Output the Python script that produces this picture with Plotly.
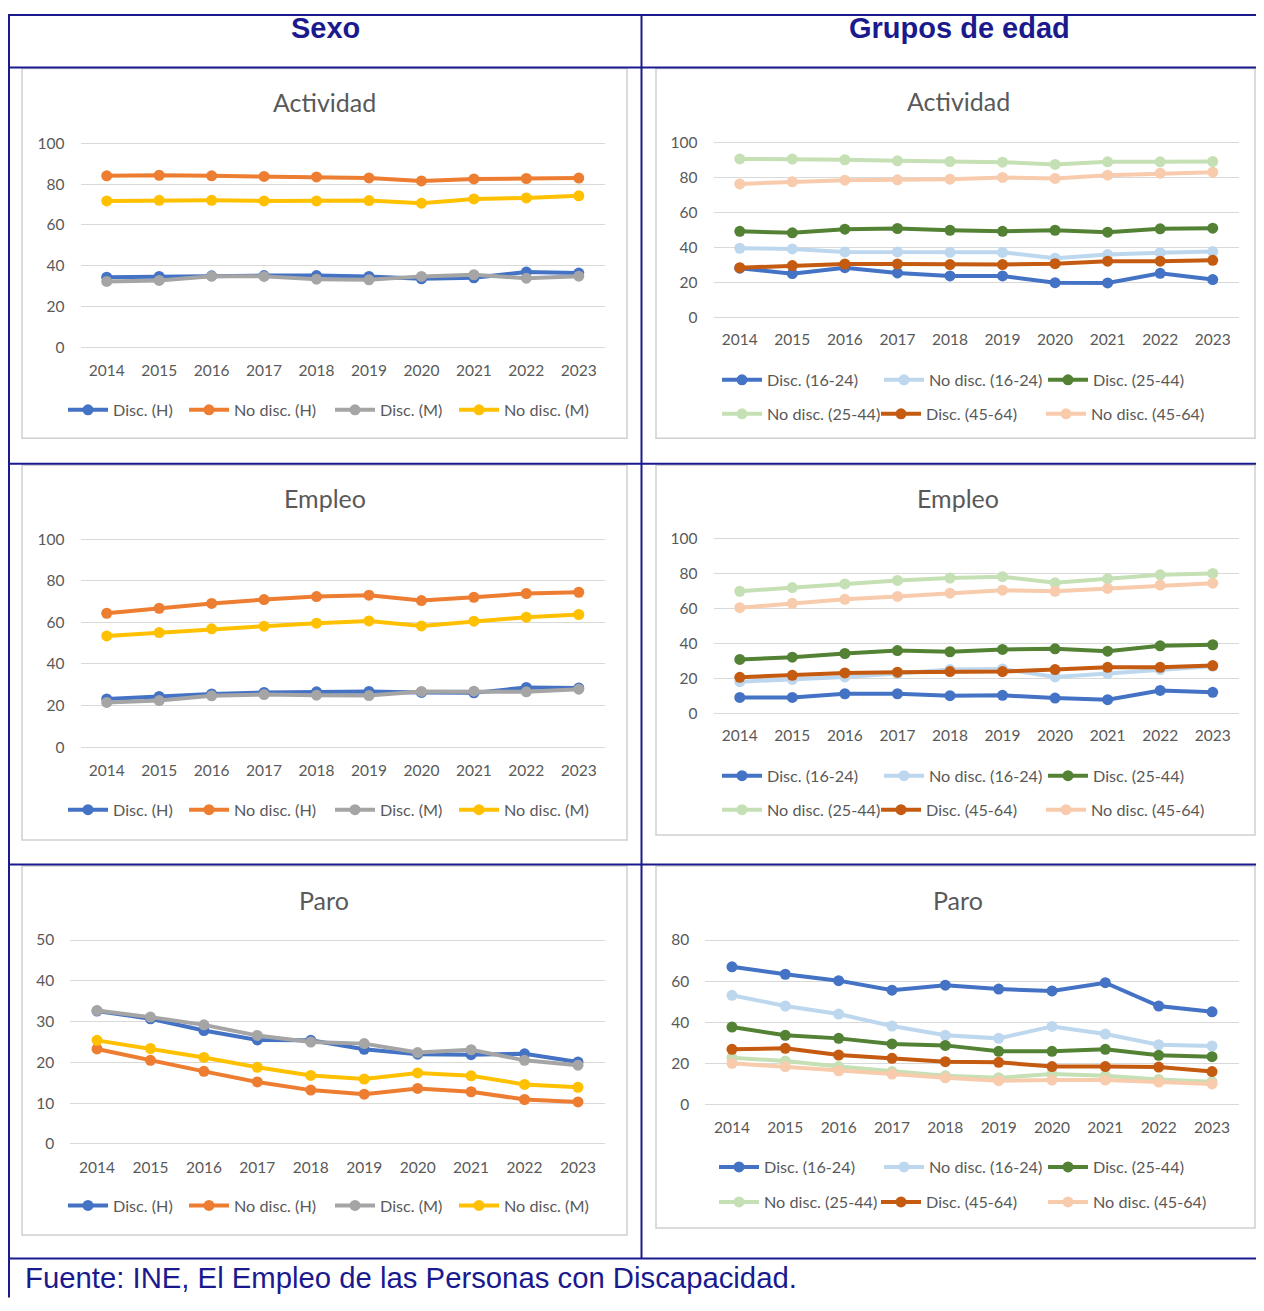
import plotly.graph_objects as go

# ---------------- data ----------------
years = ['2014', '2015', '2016', '2017', '2018', '2019', '2020', '2021', '2022', '2023']

sexo_names = ['Disc. (H)', 'No disc. (H)', 'Disc. (M)', 'No disc. (M)']
sexo_colors = ['#4472C4', '#ED7D31', '#A5A5A5', '#FFC000']

edad_names = ['Disc. (16-24)', 'No disc. (16-24)', 'Disc. (25-44)',
              'No disc. (25-44)', 'Disc. (45-64)', 'No disc. (45-64)']
edad_colors = ['#4472C4', '#BDD7EE', '#548235', '#C5E0B4', '#C55A11', '#F8CBAD']

# Actividad - Sexo
act_disc_h = [34.4, 34.8, 35.1, 35.2, 35.2, 34.8, 33.6, 34.1, 36.9, 36.4]
act_nodisc_h = [84.1, 84.4, 84.1, 83.8, 83.6, 83.1, 81.6, 82.6, 82.8, 83.0]
act_disc_m = [32.3, 32.8, 34.9, 34.8, 33.4, 33.1, 34.8, 35.6, 33.9, 34.9]
act_nodisc_m = [71.8, 72.1, 72.1, 71.8, 71.8, 72.0, 70.7, 72.8, 73.3, 74.3]

# Actividad - Grupos de edad
act_disc_16 = [28.1, 25.0, 28.4, 25.4, 23.7, 23.7, 19.8, 19.7, 25.2, 21.6]
act_nodisc_16 = [39.5, 39.1, 37.4, 37.4, 37.2, 37.2, 33.8, 35.9, 37.0, 37.6]
act_disc_25 = [49.2, 48.3, 50.4, 50.8, 49.8, 49.2, 49.8, 48.7, 50.6, 51.0]
act_nodisc_25 = [90.6, 90.5, 90.1, 89.5, 89.1, 88.7, 87.4, 88.9, 88.9, 89.1]
act_disc_45 = [28.4, 29.6, 30.5, 30.5, 30.2, 30.2, 30.7, 32.1, 32.1, 32.6]
act_nodisc_45 = [76.3, 77.5, 78.4, 78.6, 79.0, 80.0, 79.4, 81.3, 82.4, 83.0]

# Empleo - Sexo
emp_disc_h = [23.2, 24.4, 25.6, 26.3, 26.6, 26.8, 26.3, 26.1, 28.7, 28.5]
emp_nodisc_h = [64.4, 66.8, 69.1, 71.0, 72.4, 73.1, 70.5, 72.1, 73.9, 74.5]
emp_disc_m = [21.5, 22.4, 24.7, 25.3, 25.0, 24.8, 26.8, 26.9, 26.6, 27.9]
emp_nodisc_m = [53.5, 55.1, 56.9, 58.2, 59.6, 60.7, 58.3, 60.6, 62.5, 63.8]

# Empleo - Grupos de edad
emp_disc_16 = [9.0, 9.0, 11.1, 11.1, 10.0, 10.2, 8.6, 7.7, 13.0, 11.9]
emp_nodisc_16 = [18.0, 19.3, 20.7, 22.6, 24.9, 25.3, 20.7, 22.6, 24.9, 26.8]
emp_disc_25 = [30.7, 32.0, 34.1, 35.8, 35.1, 36.4, 36.8, 35.4, 38.5, 39.1]
emp_nodisc_25 = [69.7, 71.8, 73.9, 75.9, 77.2, 78.0, 74.5, 76.8, 79.1, 79.9]
emp_disc_45 = [20.5, 21.6, 23.0, 23.4, 23.8, 23.8, 24.9, 26.2, 26.2, 27.2]
emp_nodisc_45 = [60.3, 62.8, 65.1, 66.7, 68.6, 70.3, 69.7, 71.3, 73.2, 74.3]

# Paro - Sexo
par_disc_h = [32.6, 30.7, 27.8, 25.5, 25.4, 23.2, 22.0, 21.9, 22.1, 20.1]
par_nodisc_h = [23.3, 20.5, 17.8, 15.2, 13.2, 12.2, 13.6, 12.8, 10.9, 10.3]
par_disc_m = [32.7, 31.1, 29.2, 26.6, 25.0, 24.6, 22.4, 23.1, 20.5, 19.3]
par_nodisc_m = [25.4, 23.4, 21.2, 18.8, 16.8, 15.9, 17.4, 16.7, 14.6, 13.9]

# Paro - Grupos de edad
par_disc_16 = [67.0, 63.4, 60.3, 55.7, 58.1, 56.2, 55.3, 59.3, 48.0, 45.2]
par_nodisc_16 = [53.2, 48.0, 44.1, 38.3, 33.8, 32.3, 38.1, 34.4, 29.2, 28.6]
par_disc_25 = [37.8, 33.8, 32.3, 29.6, 28.9, 26.0, 26.0, 27.0, 24.1, 23.4]
par_nodisc_25 = [22.9, 21.3, 18.6, 16.2, 14.2, 13.2, 15.0, 14.2, 12.4, 11.3]
par_disc_45 = [27.0, 27.5, 24.2, 22.6, 21.0, 20.7, 18.6, 18.6, 18.4, 16.2]
par_nodisc_45 = [20.2, 18.6, 16.6, 15.0, 13.2, 11.8, 12.1, 12.1, 11.1, 10.2]

col_headers = ['Sexo', 'Grupos de edad']
panel_titles = ['Actividad', 'Actividad', 'Empleo', 'Empleo', 'Paro', 'Paro']
footer_text = 'Fuente: INE, El Empleo de las Personas con Discapacidad.'

# ---------------- layout helpers ----------------
W, H = 1248, 1295
OX = 8
TOP = 13.5      # page offset of the figure top
SY = 0.992      # vertical scale seen in the rendered page
NAVY = '#1A1A8E'
GRID = '#D9D9D9'
TXT = '#595959'
FONT = 'Lato'


def px(X):
    return (X - OX) / W


def py(Y):
    f = (Y - TOP) / SY
    f = min(max(f, 1.0), H - 0.5)
    return 1 - f / H


def pyv(dpx):
    return dpx / SY


sexo_series = [
    [act_disc_h, act_nodisc_h, act_disc_m, act_nodisc_m],
    [emp_disc_h, emp_nodisc_h, emp_disc_m, emp_nodisc_m],
    [par_disc_h, par_nodisc_h, par_disc_m, par_nodisc_m],
]
edad_series = [
    [act_disc_16, act_nodisc_16, act_disc_25, act_nodisc_25, act_disc_45, act_nodisc_45],
    [emp_disc_16, emp_nodisc_16, emp_disc_25, emp_nodisc_25, emp_disc_45, emp_nodisc_45],
    [par_disc_16, par_nodisc_16, par_disc_25, par_nodisc_25, par_disc_45, par_nodisc_45],
]

sexo_leg_x = [68, 189, 335, 459]
edad_leg_x = [722, 884, 1048, 722, 881, 1046]

# pixel geometry of each panel
panels = [
    dict(kind='sexo', row=0, x0=80.5, x1=605.0, y0=347, yt=143, ymax=100, dtick=20,
         tx=324, ty=102, box=(22, 68, 627, 438), legx=sexo_leg_x, legy=[410] * 4),
    dict(kind='edad', row=0, x0=713.5, x1=1239.0, y0=317, yt=142, ymax=100, dtick=20,
         tx=958, ty=101, box=(656, 68, 1262, 438), legx=edad_leg_x, legy=[380] * 3 + [414] * 3),
    dict(kind='sexo', row=1, x0=80.5, x1=605.0, y0=747, yt=539, ymax=100, dtick=20,
         tx=325, ty=498, box=(22, 465, 627, 840), legx=sexo_leg_x, legy=[810] * 4),
    dict(kind='edad', row=1, x0=713.5, x1=1239.0, y0=713, yt=538, ymax=100, dtick=20,
         tx=958, ty=498, box=(656, 465, 1262, 835), legx=edad_leg_x, legy=[776] * 3 + [810] * 3),
    dict(kind='sexo', row=2, x0=70.3, x1=604.7, y0=1144, yt=940, ymax=50, dtick=10,
         tx=324, ty=900, box=(22, 866, 627, 1235), legx=sexo_leg_x, legy=[1206] * 4),
    dict(kind='edad', row=2, x0=705.3, x1=1238.7, y0=1105, yt=940, ymax=80, dtick=20,
         tx=958, ty=900, box=(656, 866, 1262, 1228),
         legx=[719, 884, 1048, 719, 881, 1048], legy=[1167.5] * 3 + [1202.5] * 3),
]

fig = go.Figure()
layout = dict(
    width=W, height=H, margin=dict(l=0, r=0, t=0, b=0),
    paper_bgcolor='white', plot_bgcolor='rgba(0,0,0,0)',
    font=dict(family=FONT, size=15, color=TXT),
    showlegend=True,
)
shapes = []
annotations = []
leg_count = 0

for i, p in enumerate(panels):
    n = i + 1
    xa = 'x' if n == 1 else f'x{n}'
    ya = 'y' if n == 1 else f'y{n}'
    if p['kind'] == 'sexo':
        names, colors, data = sexo_names, sexo_colors, sexo_series[p['row']]
    else:
        names, colors, data = edad_names, edad_colors, edad_series[p['row']]
    for name, color, vals, lx, ly in zip(names, colors, data, p['legx'], p['legy']):
        leg_count += 1
        lg = 'legend' if leg_count == 1 else f'legend{leg_count}'
        fig.add_trace(go.Scatter(
            x=years, y=vals, name=name, mode='lines+markers',
            line=dict(color=color, width=4),
            marker=dict(color=color, size=11),
            xaxis=xa, yaxis=ya, legend=lg,
        ))
        layout[lg] = dict(orientation='h', x=px(lx - 5), y=py(ly), xanchor='left', yanchor='middle',
                          bgcolor='rgba(0,0,0,0)', borderwidth=0,
                          font=dict(family=FONT, size=16.2, color=TXT), itemwidth=40)
    # axes
    pad = 0.02 * p['ymax']
    padpx = 0.02 * (p['y0'] - p['yt'])
    layout['xaxis' if n == 1 else f'xaxis{n}'] = dict(
        domain=[px(p['x0']), px(p['x1'])], anchor=ya, type='category',
        range=[-0.5, 9.5], showgrid=False, zeroline=False, showline=False,
        ticks='', ticklabelstandoff=8, tickfont=dict(family=FONT, size=15.5, color=TXT),
        fixedrange=True,
    )
    layout['yaxis' if n == 1 else f'yaxis{n}'] = dict(
        domain=[py(p['y0'] + padpx), py(p['yt'] - padpx)], anchor=xa,
        range=[-pad, p['ymax'] + pad], dtick=p['dtick'], tick0=0,
        showgrid=True, gridcolor=GRID, gridwidth=1.3,
        zeroline=True, zerolinecolor=GRID, zerolinewidth=1.3,
        showline=False, ticks='', ticklabelstandoff=15,
        tickfont=dict(family=FONT, size=15.5, color=TXT), fixedrange=True,
    )
    # chart frame
    bx0, by0, bx1, by1 = p['box']
    shapes.append(dict(type='rect', xref='paper', yref='paper',
                       x0=px(bx0), x1=px(min(bx1, 1255)), y0=py(by1), y1=py(by0),
                       line=dict(color='#D0D0D0', width=1.5), layer='below'))
    # title
    annotations.append(dict(text=panel_titles[i], xref='paper', yref='paper',
                            x=px(p['tx']), y=py(p['ty']), xanchor='center', yanchor='middle',
                            showarrow=False, font=dict(family=FONT, size=25, color=TXT)))


# table lines
def hline(Y, X0, X1):
    shapes.append(dict(type='line', xref='paper', yref='paper', x0=px(X0), x1=px(X1),
                       y0=py(Y), y1=py(Y), line=dict(color=NAVY, width=2)))


def vline(X, Y0, Y1):
    shapes.append(dict(type='line', xref='paper', yref='paper', x0=px(X), x1=px(X),
                       y0=py(Y0), y1=py(Y1), line=dict(color=NAVY, width=2)))


hline(10.5, 8, 1264)
hline(67, 8, 1264)
hline(463.5, 8, 1264)
hline(864.5, 8, 1264)
hline(1258.5, 8, 1264)
vline(9, 10.5, 1311)
vline(641.5, 10.5, 1258.5)

# headers and footer
annotations.append(dict(text='<b>' + col_headers[0] + '</b>', xref='paper', yref='paper',
                        x=px(325), y=py(28), xanchor='center', yanchor='middle', showarrow=False,
                        font=dict(family='Liberation Sans', size=29, color=NAVY)))
annotations.append(dict(text='<b>' + col_headers[1] + '</b>', xref='paper', yref='paper',
                        x=px(959.5), y=py(28), xanchor='center', yanchor='middle', showarrow=False,
                        font=dict(family='Liberation Sans', size=29, color=NAVY)))
annotations.append(dict(text=footer_text, xref='paper', yref='paper',
                        x=px(23), y=py(1278), xanchor='left', yanchor='middle', showarrow=False,
                        font=dict(family='Liberation Sans', size=29.3, color=NAVY)))

layout['shapes'] = shapes
layout['annotations'] = annotations
fig.update_layout(**layout)
fig.write_html('out.html')
